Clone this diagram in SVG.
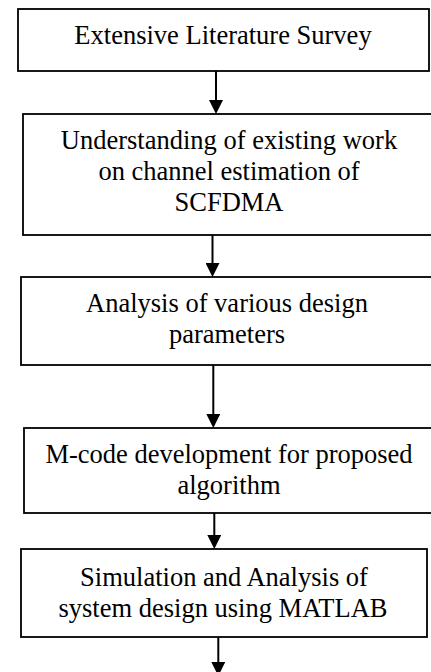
<svg xmlns="http://www.w3.org/2000/svg" width="431" height="672" viewBox="0 0 431 672">
<style>
.box{fill:#fff;stroke:#000;stroke-width:1.8}
.t{font-family:"Liberation Serif","Times New Roman",serif;font-size:26.5px;fill:#000;text-anchor:middle}
.c{stroke:#000;stroke-width:2;fill:none}
</style>
<defs>
<marker id="ah" markerUnits="userSpaceOnUse" viewBox="0 0 14 14" markerWidth="14" markerHeight="14" refX="8" refY="7" orient="auto">
<path d="M0,0 L14,7 L0,14 z" fill="#000"/>
</marker>
</defs>
<rect width="431" height="672" fill="#fff"/>
<g id="connectors">
<line class="c" x1="216" y1="71" x2="216" y2="108" marker-end="url(#ah)"/>
<line class="c" x1="212.5" y1="235" x2="212.5" y2="271" marker-end="url(#ah)"/>
<line class="c" x1="213.3" y1="365" x2="213.3" y2="422" marker-end="url(#ah)"/>
<line class="c" x1="214.3" y1="513" x2="214.3" y2="543" marker-end="url(#ah)"/>
<line class="c" x1="218.3" y1="637" x2="218.3" y2="670" marker-end="url(#ah)"/>
</g>
<g id="n1">
<rect class="box" x="18" y="9" width="411" height="62"/>
<text class="t" x="223" y="43.5">Extensive Literature Survey</text>
</g>
<g id="n2">
<rect class="box" x="23" y="114" width="414" height="121"/>
<text class="t" x="229" y="149">Understanding of existing work</text>
<text class="t" x="229" y="180">on channel estimation of</text>
<text class="t" x="229" y="211">SCFDMA</text>
</g>
<g id="n3">
<rect class="box" x="21" y="277" width="416" height="88"/>
<text class="t" x="227" y="312">Analysis of various design</text>
<text class="t" x="227" y="343">parameters</text>
</g>
<g id="n4">
<rect class="box" x="24" y="428" width="413" height="85"/>
<text class="t" x="229" y="463">M-code development for proposed</text>
<text class="t" x="229" y="494">algorithm</text>
</g>
<g id="n5">
<rect class="box" x="21" y="549" width="406" height="88"/>
<text class="t" x="224" y="586">Simulation and Analysis of</text>
<text class="t" x="223" y="617">system design using MATLAB</text>
</g>
</svg>
